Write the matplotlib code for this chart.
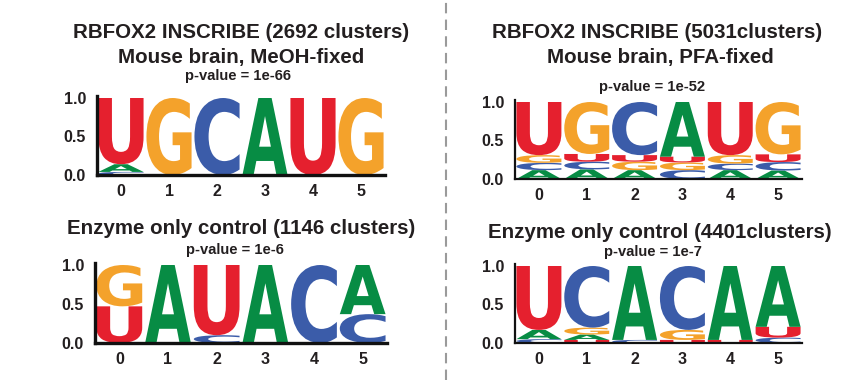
import matplotlib
matplotlib.use("Agg")
import matplotlib.pyplot as plt
from matplotlib.textpath import TextPath
from matplotlib.patches import PathPatch
from matplotlib.font_manager import FontProperties
from matplotlib.lines import Line2D
import matplotlib.transforms as mtransforms

# ---------------- data ----------------
positions = [0, 1, 2, 3, 4, 5]
yticks = [0.0, 0.5, 1.0]
ytick_labels = ["0.0", "0.5", "1.0"]

# each position: letters stacked bottom -> top with their probabilities
meoh_stacks = [
    [("C", 0.04), ("A", 0.10), ("U", 0.86)],
    [("G", 1.00)],
    [("C", 1.00)],
    [("A", 1.00)],
    [("U", 1.00)],
    [("G", 1.00)],
]
pfa_stacks = [
    [("A", 0.115), ("C", 0.095), ("G", 0.10), ("U", 0.69)],
    [("A", 0.125), ("C", 0.10), ("U", 0.10), ("G", 0.675)],
    [("A", 0.115), ("G", 0.11), ("U", 0.085), ("C", 0.69)],
    [("C", 0.115), ("G", 0.10), ("U", 0.075), ("A", 0.71)],
    [("A", 0.115), ("C", 0.085), ("G", 0.11), ("U", 0.69)],
    [("A", 0.11), ("C", 0.11), ("U", 0.10), ("G", 0.68)],
]
meoh_ctrl_stacks = [
    [("U", 0.47), ("G", 0.53)],
    [("A", 1.00)],
    [("C", 0.10), ("U", 0.90)],
    [("A", 1.00)],
    [("C", 1.00)],
    [("C", 0.37), ("A", 0.63)],
]
pfa_ctrl_stacks = [
    [("C", 0.05), ("A", 0.12), ("U", 0.83)],
    [("U", 0.04), ("A", 0.07), ("G", 0.09), ("C", 0.80)],
    [("C", 0.04), ("A", 0.96)],
    [("U", 0.04), ("G", 0.13), ("C", 0.83)],
    [("U", 0.04), ("A", 0.96)],
    [("C", 0.07), ("U", 0.14), ("A", 0.79)],
]

titles_tl = ["RBFOX2 INSCRIBE (2692 clusters)", "Mouse brain, MeOH-fixed"]
titles_tr = ["RBFOX2 INSCRIBE (5031clusters)", "Mouse brain, PFA-fixed"]
title_bl = "Enzyme only control (1146 clusters)"
title_br = "Enzyme only control (4401clusters)"
pvals = ["p-value = 1e-66", "p-value = 1e-52", "p-value = 1e-6", "p-value = 1e-7"]

colors = {"U": "#E5202E", "G": "#F4A22B", "C": "#3B5CA9", "A": "#078C44"}

# ---------------- drawing ----------------
W, H = 844, 380
fig = plt.figure(figsize=(W / 100, H / 100), dpi=100)
fig.patch.set_facecolor("white")

glyph_font = FontProperties(family="DejaVu Sans", weight="bold")
text_font = "Liberation Sans"
text_color = "#231F20"


def draw_letter(ax, letter, xc, y0, h, width=0.94):
    tp = TextPath((0, 0), letter, size=1, prop=glyph_font)
    bb = tp.get_extents()
    t = (mtransforms.Affine2D()
         .translate(-bb.x0, -bb.y0)
         .scale(width / bb.width, h / bb.height)
         .translate(xc - width / 2, y0))
    patch = PathPatch(tp, transform=t + ax.transData, facecolor=colors[letter],
                      edgecolor="none", lw=0, clip_on=False)
    ax.add_patch(patch)


def make_axes(left_px, right_px, base_px, unit_px, stacks, spine_lw):
    ytop = 1.03
    left = left_px / W
    width = (right_px - left_px) / W
    bottom = 1 - base_px / H
    height = unit_px * ytop / H
    ax = fig.add_axes([left, bottom, width, height])
    ax.set_xlim(-0.5, 5.5)
    ax.set_ylim(0, ytop)
    for pos, stack in zip(positions, stacks):
        y = 0.0
        for letter, p in stack:
            draw_letter(ax, letter, pos, y, p)
            y += p
    for s in ["top", "right"]:
        ax.spines[s].set_visible(False)
    for s in ["left", "bottom"]:
        ax.spines[s].set_linewidth(spine_lw)
        ax.spines[s].set_color("#111111")
        ax.spines[s].set_zorder(5)
    ax.set_xticks(positions)
    ax.set_xticklabels([str(p) for p in positions])
    ax.set_yticks(yticks)
    ax.set_yticklabels(ytick_labels)
    ax.tick_params(length=0, labelsize=11.5, labelcolor=text_color)
    ax.tick_params(axis="x", pad=6.5)
    ax.tick_params(axis="y", pad=8)
    for lab in ax.get_xticklabels() + ax.get_yticklabels():
        lab.set_fontweight("bold")
        lab.set_family(text_font)
    ax.patch.set_alpha(0)
    return ax


make_axes(97, 385, 175, 77, meoh_stacks, 2.4)
make_axes(515, 802, 179, 77, pfa_stacks, 1.6)
make_axes(95, 387, 343, 78, meoh_ctrl_stacks, 2.4)
make_axes(515, 802, 343, 77, pfa_ctrl_stacks, 1.6)


def ftext(xp, yp, s, size):
    fig.text(xp / W, 1 - yp / H, s, ha="center", va="center", fontsize=size,
             fontweight="bold", family=text_font, color=text_color)


ftext(241, 32, titles_tl[0], 14.8)
ftext(241, 57, titles_tl[1], 14.8)
ftext(238, 76, pvals[0], 10.6)
ftext(657, 33, titles_tr[0], 14.8)
ftext(660, 58, titles_tr[1], 14.8)
ftext(652, 87, pvals[1], 10.6)
ftext(241, 228, title_bl, 14.8)
ftext(235, 250, pvals[2], 10.6)
ftext(660, 232, title_br, 14.8)
ftext(653, 252, pvals[3], 10.6)

fig.add_artist(Line2D([446 / W, 446 / W], [0, 1], transform=fig.transFigure,
                      color="#9A9A9A", lw=1.5, linestyle=(0, (5, 3))))

fig.savefig("out.png", dpi=100)
